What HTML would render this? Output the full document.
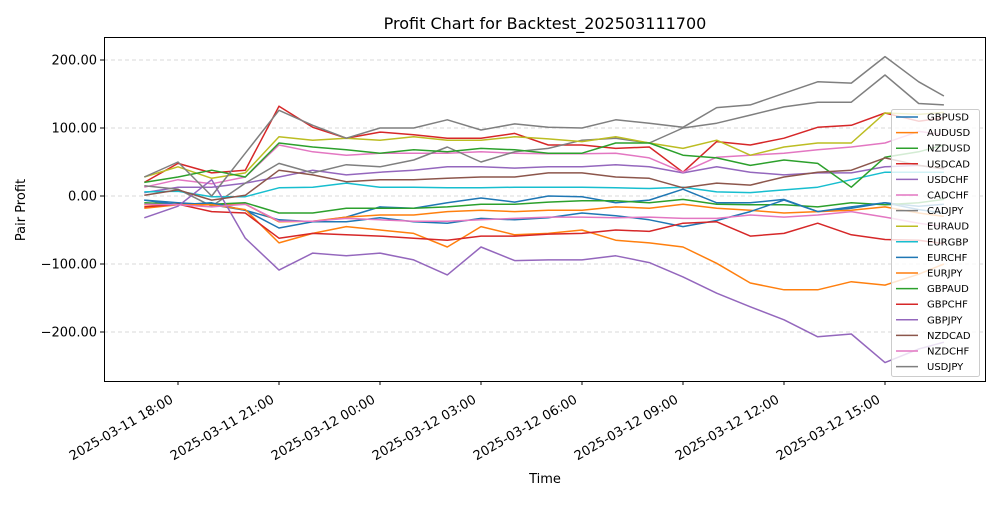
<!DOCTYPE html>
<html><head><meta charset="utf-8"><style>
body{margin:0;background:#fff;font-family:"Liberation Sans","DejaVu Sans",sans-serif}
svg text{font-family:"DejaVu Sans","Liberation Sans",sans-serif}
</style></head><body>
<svg id="chart" width="1000" height="500" xmlns="http://www.w3.org/2000/svg">
<rect x="0" y="0" width="1000" height="500" fill="#fff"/>
<text x="545" y="29" font-size="16" text-anchor="middle">Profit Chart for Backtest_202503111700</text>
<g id="grid"></g>
<g id="series"></g>
<rect x="104.5" y="37.5" width="881" height="344" fill="none" stroke="#000" stroke-width="1"/>
<g id="axes"></g>
<text x="545" y="483" font-size="13" text-anchor="middle">Time</text>
<text transform="translate(25,210) rotate(-90)" font-size="13" text-anchor="middle">Pair Profit</text>
<g id="legend"></g>
</svg>
<script>
const hours=[-1,0,1,2,3,4,5,6,7,8,9,10,11,12,13,14,15,16,17,18,19,20,21,22,22.75];
const names=["GBPUSD","AUDUSD","NZDUSD","USDCAD","USDCHF","CADCHF","CADJPY","EURAUD","EURGBP","EURCHF","EURJPY","GBPAUD","GBPCHF","GBPJPY","NZDCAD","NZDCHF","USDJPY"];
const colors=["#1f77b4","#ff7f0e","#2ca02c","#d62728","#9467bd","#e377c2","#7f7f7f","#bcbd22","#17becf","#1f77b4","#ff7f0e","#2ca02c","#d62728","#9467bd","#8c564b","#e377c2","#7f7f7f"];
const GBPUSD=[-6,-10,-13,-21,-35,-38,-31,-16,-18,-10,-3,-9,0,-1,-10,-6,10,-10,-10,-5,-23,-18,-10,-15,-12];
const AUDUSD=[-13,-12,-13,-12,-38,-37,-31,-28,-28,-23,-21,-23,-21,-21,-16,-18,-12,-18,-21,-25,-23,-21,-16,-25,-30];
const NZDUSD=[-10,-12,-12,-10,-25,-25,-18,-18,-18,-16,-12,-12,-9,-7,-7,-10,-5,-12,-13,-13,-16,-10,-13,-10,-5];
const USDCAD=[20,48,34,38,132,101,85,94,90,85,85,92,75,75,70,72,35,80,75,85,101,104,122,110,115];
const USDCHF=[5,13,13,19,28,38,31,35,38,43,43,41,43,43,46,43,34,43,35,31,34,34,43,45,40];
const CADCHF=[13,24,18,28,75,65,60,63,63,63,65,63,62,62,63,56,35,57,60,63,68,72,78,95,90];
const CADJPY=[15,10,-15,19,48,34,46,43,53,72,50,65,70,82,85,78,100,107,119,131,138,138,178,136,134];
const EURAUD=[28,43,26,34,87,82,85,82,87,82,82,87,84,80,87,78,70,82,60,72,78,78,122,120,123];
const EURGBP=[6,7,-1,-1,12,13,19,13,13,12,12,13,13,13,12,11,13,6,5,9,13,24,35,35,35];
const EURCHF=[-6,-13,-10,-21,-47,-38,-38,-32,-38,-40,-33,-35,-32,-25,-29,-35,-45,-36,-23,-6,-23,-16,-10,-20,-25];
const EURJPY=[-18,-13,-13,-20,-69,-55,-45,-50,-55,-75,-45,-57,-55,-50,-65,-69,-75,-99,-128,-138,-138,-126,-131,-115,-100];
const GBPAUD=[20,28,38,28,78,72,68,63,68,65,70,68,63,63,78,78,60,56,45,53,48,13,57,65,75];
const GBPCHF=[-16,-12,-23,-25,-62,-55,-57,-59,-62,-65,-59,-59,-56,-55,-50,-52,-40,-38,-59,-55,-40,-57,-64,-65,-70];
const GBPJPY=[-32,-15,24,-62,-109,-84,-88,-84,-94,-116,-75,-95,-94,-94,-88,-98,-119,-143,-163,-182,-207,-203,-245,-225,-215];
const NZDCAD=[1,9,-6,1,38,31,21,24,24,26,28,28,34,34,28,26,12,19,16,28,35,38,56,45,40];
const NZDCHF=[-12,-13,-16,-12,-37,-37,-33,-35,-37,-37,-35,-33,-31,-31,-32,-31,-33,-33,-28,-31,-28,-23,-31,-40,-45];
const USDJPY=[28,50,0,63,126,104,85,100,100,112,97,106,101,100,112,107,101,130,134,151,168,166,205,168,147];
const seriesData=[GBPUSD,AUDUSD,NZDUSD,USDCAD,USDCHF,CADCHF,CADJPY,EURAUD,EURGBP,EURCHF,EURJPY,GBPAUD,GBPCHF,GBPJPY,NZDCAD,NZDCHF,USDJPY];
const yTicks=[-200,-100,0,100,200];
const yTickLabels=["−200.00","−100.00","0.00","100.00","200.00"];
const xTicks=[0,3,6,9,12,15,18,21];
const xTickLabels=["2025-03-11 18:00","2025-03-11 21:00","2025-03-12 00:00","2025-03-12 03:00","2025-03-12 06:00","2025-03-12 09:00","2025-03-12 12:00","2025-03-12 15:00"];
const X=h=>178+h*33.667;
const Y=v=>196-v*0.68;
const NS="http://www.w3.org/2000/svg";
function mk(t,a,p){const e=document.createElementNS(NS,t);for(const k in a)e.setAttribute(k,a[k]);p.appendChild(e);return e;}
const grid=document.getElementById('grid'),axes=document.getElementById('axes'),sg=document.getElementById('series'),lg=document.getElementById('legend');
yTicks.forEach((v,i)=>{
  const l=mk('line',{x1:104,x2:985,y1:Y(v),y2:Y(v),stroke:'#ccc','stroke-dasharray':'4,3','stroke-width':0.8},grid);
  
  
  const t=mk('line',{x1:100,x2:104,y1:Y(v),y2:Y(v),stroke:'#000'},axes);
  
  
  const tx=mk('text',{x:97,y:Y(v)+4.5,'font-size':13,'text-anchor':'end'},axes);
  tx.textContent=yTickLabels[i];
  
  
});
xTicks.forEach((h,i)=>{
  const t=mk('line',{x1:X(h),x2:X(h),y1:381,y2:385,stroke:'#000'},axes);
  
  
  const tx=mk('text',{transform:`translate(${X(h)-4},${402}) rotate(-30)`,'font-size':13,'text-anchor':'end'},axes);
  tx.textContent=xTickLabels[i];
  
  
});
seriesData.forEach((d,i)=>{
  const pts=d.map((v,j)=>X(hours[j]).toFixed(1)+','+Y(v).toFixed(1)).join(' ');
  const p=mk('polyline',{points:pts,fill:'none',stroke:colors[i],'stroke-width':1.5,'stroke-linejoin':'round'},sg);
  
  
});
const box=mk('rect',{x:891.5,y:109.5,width:88,height:267,rx:2,fill:'#fff','fill-opacity':0.8,stroke:'#ccc'},lg);


names.forEach((n,i)=>{
  const yy=117+i*15.6;
  const g=mk('g',{},lg);
  
  
  mk('line',{x1:896,x2:918,y1:yy,y2:yy,stroke:colors[i],'stroke-width':1.5},g);
  const t=mk('text',{x:927,y:yy+3.5,'font-size':10},g);
  t.textContent=n;
});
</script>
</body></html>
